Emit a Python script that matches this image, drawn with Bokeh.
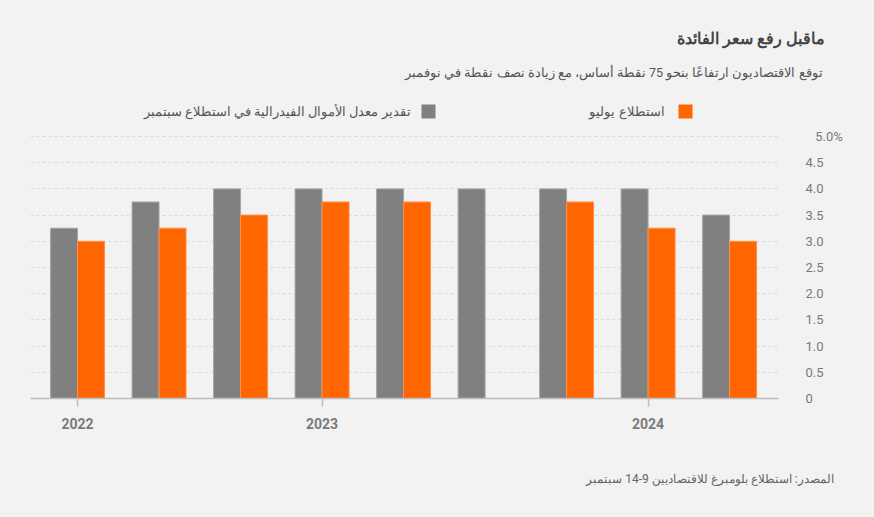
import numpy as np
from bokeh.plotting import figure
from bokeh.models import FixedTicker, CustomJSTickFormatter, Range1d, Title
from bokeh.core.properties import value
from bokeh.embed import file_html
from bokeh.resources import INLINE

# ---- data ----
groups = list(range(9))
sept_fed = [3.25, 3.75, 4.0, 4.0, 4.0, 4.0, 4.0, 4.0, 3.5]
july = [3.0, 3.25, 3.5, 3.75, 3.75, np.nan, 3.75, 3.25, 3.0]
x_tick_positions = [0, 3, 7]
x_tick_labels = ["2022", "2023", "2024"]
y_ticks = [0, 0.5, 1.0, 1.5, 2.0, 2.5, 3.0, 3.5, 4.0, 4.5, 5.0]

title_text = "ماقبل رفع سعر الفائدة"
subtitle_text = "توقع الاقتصاديون ارتفاعًا بنحو 75 نقطة أساس، مع زيادة نصف نقطة في نوفمبر"
legend_gray = "تقدير معدل الأموال الفيدرالية في استطلاع سبتمبر"
legend_orange = "استطلاع يوليو"
source_text = "المصدر: استطلاع بلومبرغ للاقتصاديين 9-14 سبتمبر"

GRAY = "#808080"
ORANGE = "#ff6600"
BG = "#f2f2f2"
FONT = "Roboto"

# layout (page pixels)
W, H = 874, 517
FRAME_L, FRAME_R, FRAME_T, FRAME_B = 30, 778, 94, 398
X0, X1 = -0.577, 8.6
PX_PER_Y = 52.4
Y1 = (FRAME_B - FRAME_T) / PX_PER_Y

p = figure(width=W, height=H, output_backend="svg", toolbar_location=None,
           x_range=Range1d(X0, X1), y_range=Range1d(0, Y1),
           y_axis_location="right",
           min_border_left=FRAME_L, min_border_right=W - FRAME_R,
           min_border_top=FRAME_T, min_border_bottom=H - FRAME_B)
p.background_fill_color = BG
p.border_fill_color = BG
p.outline_line_color = None

xs = np.array(groups, dtype=float)
bw = 0.331
p.vbar(x=xs - bw / 2, top=sept_fed, width=bw, fill_color=GRAY,
       line_color="#a6a6a6", line_width=1)
p.vbar(x=xs + bw / 2, top=july, width=bw, fill_color=ORANGE,
       line_color="#ff8f4a", line_width=1)

xa = p.xaxis[0]
xa.ticker = FixedTicker(ticks=x_tick_positions)
xa.major_label_overrides = dict(zip(x_tick_positions, x_tick_labels))
xa.axis_line_color = "#bdbdbd"
xa.axis_line_width = 1.5
xa.major_tick_line_color = "#bdbdbd"
xa.major_tick_line_width = 1.5
xa.major_tick_out = 8
xa.major_tick_in = 0
xa.minor_tick_line_color = None
xa.major_label_text_font = FONT
xa.major_label_text_font_size = "14px"
xa.major_label_text_font_style = "bold"
xa.major_label_text_color = "#7a7a7a"
xa.major_label_standoff = 11

ya = p.yaxis[0]
ya.ticker = FixedTicker(ticks=y_ticks)
ya.formatter = CustomJSTickFormatter(code="""
    if (tick == 0) return '0';
    if (tick >= 5) return '\\u00a0\\u00a0\\u00a0' + tick.toFixed(1) + '%';
    return tick.toFixed(1);
""")
ya.axis_line_color = None
ya.major_tick_line_color = None
ya.minor_tick_line_color = None
ya.major_label_text_font = FONT
ya.major_label_text_font_size = "13px"
ya.major_label_text_color = "#7a7a7a"
ya.major_label_standoff = 21

p.xgrid.grid_line_color = None
p.ygrid.ticker = FixedTicker(ticks=y_ticks[1:])
p.ygrid.grid_line_color = "#d9d9d9"
p.ygrid.grid_line_dash = "3 3"
p.ygrid.grid_line_width = 1


# ---- legend (right-to-left: text then square), drawn in the frame's top strip ----
def dx(px):
    return X0 + (px - FRAME_L) / ((FRAME_R - FRAME_L) / (X1 - X0))


def dy(py):
    return (FRAME_B - py) / PX_PER_Y


p.text(x=[dx(664), dx(410)], y=[dy(111), dy(111)], text=[legend_orange, legend_gray],
       text_align="right", text_baseline="middle", text_font=value(FONT),
       text_font_size="12.5px", text_color="#555555")
p.rect(x=[dx(685), dx(428)], y=[dy(111), dy(111)], width=14, height=14,
       width_units="screen", height_units="screen",
       fill_color=[ORANGE, GRAY], line_color=None)

# ---- titles above (first added sits nearest the frame) ----
p.add_layout(Title(text=subtitle_text, align="right", offset=-(822 - FRAME_R),
                   vertical_align="middle", standoff=27,
                   text_font=FONT, text_font_size="12.5px",
                   text_font_style="normal", text_color="#555555"), "above")
p.add_layout(Title(text=title_text, align="right", offset=-(824 - FRAME_R),
                   vertical_align="bottom", standoff=6,
                   text_font=FONT, text_font_size="15.5px",
                   text_font_style="bold", text_color="#444444"), "above")

# ---- source below (a blank spacer row, then the source line) ----
p.add_layout(Title(text="\u00a0", align="right", standoff=23,
                   text_font=FONT, text_font_size="12px",
                   text_font_style="normal", text_color=BG), "below")
p.add_layout(Title(text=source_text, align="right", offset=-(833 - FRAME_R),
                   vertical_align="middle", standoff=0,
                   text_font=FONT, text_font_size="12px",
                   text_font_style="normal", text_color="#666666"), "below")

html = file_html(p, INLINE)
html = html.replace("<head>", "<head><style>body{background:#f2f2f2;}</style>", 1)
open("out.html", "w").write(html)
